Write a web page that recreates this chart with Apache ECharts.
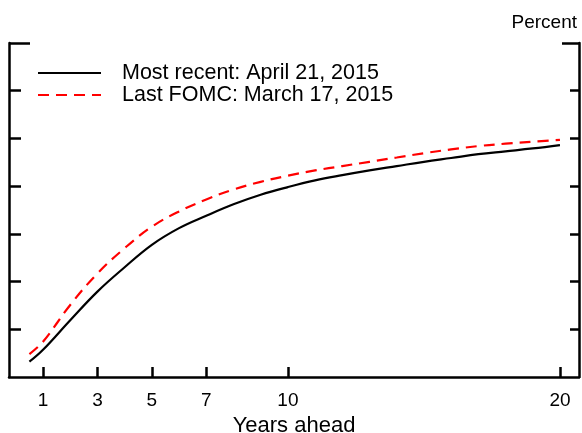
<!DOCTYPE html>
<html>
<head>
<meta charset="utf-8">
<script src="https://cdn.jsdelivr.net/npm/echarts@6/dist/echarts.min.js"></script>
<style>html,body{margin:0;padding:0;background:#fff}#c{width:582px;height:433px}</style>
</head>
<body>
<div id="c"></div>
<script>
var years = [0.5, 1, 2, 3, 4, 5, 6, 7, 8, 9, 10, 11, 12, 13, 14, 15, 16, 17, 18, 19, 20];
var mostRecent = [0.32, 0.57, 1.19, 1.79, 2.30, 2.77, 3.12, 3.38, 3.62, 3.82, 3.98, 4.12, 4.23, 4.33, 4.42, 4.51, 4.59, 4.67, 4.73, 4.79, 4.86];
var lastFomc = [0.48, 0.74, 1.51, 2.17, 2.70, 3.15, 3.47, 3.72, 3.93, 4.09, 4.22, 4.33, 4.42, 4.51, 4.60, 4.69, 4.77, 4.84, 4.89, 4.93, 4.97];
var xTicks = [1, 3, 5, 7, 10, 20];
var seriesNames = ['Most recent: April 21, 2015', 'Last FOMC: March 17, 2015'];

function pairs(xs, ys) { return xs.map(function (x, i) { return [x, ys[i]]; }); }

var font = 'Liberation Sans, Arial, sans-serif';
var chart = echarts.init(document.getElementById('c'), null, { renderer: 'canvas' });
var innerTicks = [1, 2, 3, 4, 5, 6];
function yAx(pos, ticks, len, showLine) {
  return {
    type: 'value', position: pos, min: 0, max: 7, interval: 1,
    splitLine: { show: false },
    axisLabel: { show: false },
    axisLine: { show: showLine, onZero: false, lineStyle: { color: '#000', width: 2.5 } },
    axisTick: { show: true, inside: true, length: len, customValues: ticks, lineStyle: { color: '#000', width: 2.5 } }
  };
}
chart.setOption({
  animation: false,
  backgroundColor: '#fff',
  title: {
    text: 'Percent', right: 0, top: 8,
    textStyle: { fontFamily: font, fontSize: 19, fontWeight: 'normal', color: '#000' }
  },
  grid: { left: 9, right: 3, top: 43, bottom: 56, containLabel: false, outerBoundsMode: 'none' },
  legend: {
    orient: 'vertical', left: 37, top: 62, padding: 0, itemWidth: 63, itemHeight: 10, itemGap: 0,
    itemStyle: { opacity: 0 },
    textStyle: { fontFamily: font, fontSize: 21.5, lineHeight: 19, color: '#000', padding: [0, 0, 0, 16] },
    data: [ { name: seriesNames[0] }, { name: seriesNames[1] } ]
  },
  xAxis: {
    type: 'value', min: -0.25, max: 20.7,
    name: 'Years ahead', nameLocation: 'middle', nameGap: 31,
    nameTextStyle: { fontFamily: font, fontSize: 22, color: '#000' },
    splitLine: { show: false },
    axisLine: { onZero: false, lineStyle: { color: '#000', width: 2.5 } },
    axisTick: { inside: true, length: 10, customValues: xTicks, lineStyle: { color: '#000', width: 2.5 } },
    axisLabel: { customValues: xTicks, margin: 14, fontFamily: font, fontSize: 19, color: '#000' }
  },
  yAxis: [
    yAx('left', innerTicks, 12, true),
    yAx('left', [7], 21, false),
    yAx('right', innerTicks, 9, true),
    yAx('right', [7], 17, false)
  ],
  series: [
    {
      name: seriesNames[0], type: 'line', data: pairs(years, mostRecent), smooth: 0.4,
      symbol: 'none', yAxisIndex: 0,
      lineStyle: { color: '#000', width: 2.2 }, itemStyle: { color: '#000' }
    },
    {
      name: seriesNames[1], type: 'line', data: pairs(years, lastFomc), smooth: 0.4,
      symbol: 'none', yAxisIndex: 0,
      lineStyle: { color: '#ff0000', width: 2.2, type: [11, 7] }, itemStyle: { color: '#ff0000' }
    }
  ]
});
</script>
</body>
</html>
